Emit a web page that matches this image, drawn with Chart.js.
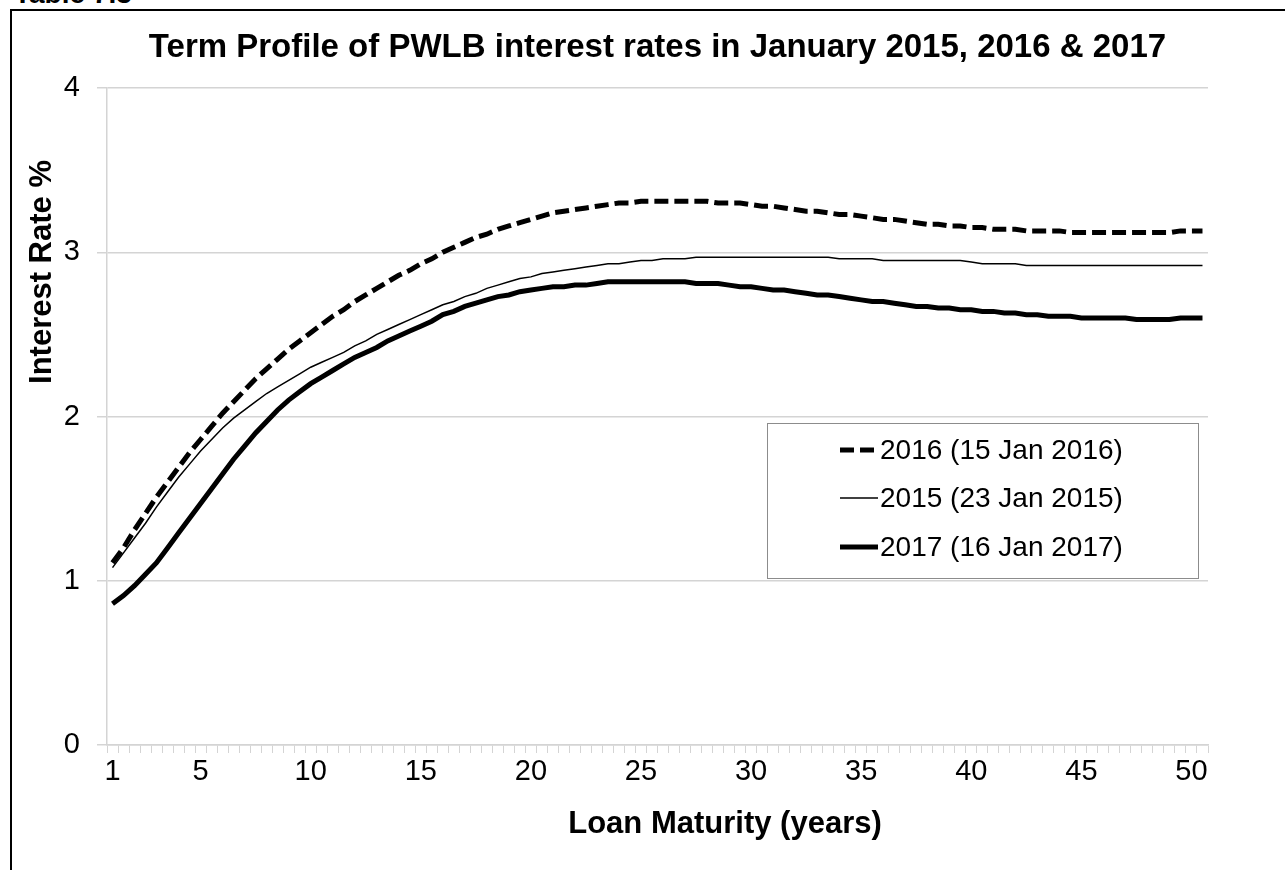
<!DOCTYPE html>
<html lang="en">
<head>
    <meta charset="UTF-8">
    <title>Term Profile of PWLB interest rates</title>
    <script src="https://cdn.jsdelivr.net/npm/chart.js"></script>
    <style>
        body {
            margin: 0;
            background: #fff;
            overflow: hidden;
            font-family: "Liberation Sans", Arial, sans-serif;
        }
        .caption {
            position: absolute;
            left: 14px;
            top: -20px;
            font: bold 28px/28px "Liberation Sans", Arial, sans-serif;
            color: #000;
        }
        .frame {
            position: absolute;
            left: 10px;
            top: 9px;
            width: 1300px;
            height: 900px;
            border-top: 2px solid #000;
            border-left: 2px solid #000;
        }
        .chart-box {
            position: absolute;
            left: 0;
            top: 0;
            width: 1285px;
            height: 870px;
        }
    </style>
</head>
<body>
    <div class="caption">Table 7.3</div>
    <div class="frame"></div>
    <div class="chart-box">
        <canvas id="rateChart"></canvas>
    </div>

    <script>
        // maturity in years, half-year steps
        const maturities = [
            1, 1.5, 2, 2.5, 3, 3.5, 4, 4.5, 5, 5.5,
            6, 6.5, 7, 7.5, 8, 8.5, 9, 9.5, 10, 10.5,
            11, 11.5, 12, 12.5, 13, 13.5, 14, 14.5, 15, 15.5,
            16, 16.5, 17, 17.5, 18, 18.5, 19, 19.5, 20, 20.5,
            21, 21.5, 22, 22.5, 23, 23.5, 24, 24.5, 25, 25.5,
            26, 26.5, 27, 27.5, 28, 28.5, 29, 29.5, 30, 30.5,
            31, 31.5, 32, 32.5, 33, 33.5, 34, 34.5, 35, 35.5,
            36, 36.5, 37, 37.5, 38, 38.5, 39, 39.5, 40, 40.5,
            41, 41.5, 42, 42.5, 43, 43.5, 44, 44.5, 45, 45.5,
            46, 46.5, 47, 47.5, 48, 48.5, 49, 49.5, 50, 50.5
        ];
        const labelledYears = [1, 5, 10, 15, 20, 25, 30, 35, 40, 45, 50];
        const yTicks = [0, 1, 2, 3, 4];

        // 2016 (15 Jan 2016)
        const rates2016 = [
            1.11, 1.20, 1.31, 1.41, 1.51, 1.60, 1.69, 1.78, 1.86, 1.94,
            2.02, 2.09, 2.16, 2.23, 2.29, 2.35, 2.41, 2.46, 2.51, 2.56,
            2.61, 2.65, 2.70, 2.74, 2.78, 2.82, 2.86, 2.89, 2.93, 2.96,
            3.00, 3.03, 3.06, 3.09, 3.11, 3.14, 3.16, 3.18, 3.20, 3.22,
            3.24, 3.25, 3.26, 3.27, 3.28, 3.29, 3.30, 3.30, 3.31, 3.31,
            3.31, 3.31, 3.31, 3.31, 3.31, 3.30, 3.30, 3.30, 3.29, 3.28,
            3.28, 3.27, 3.26, 3.25, 3.25, 3.24, 3.23, 3.23, 3.22, 3.21,
            3.20, 3.20, 3.19, 3.18, 3.17, 3.17, 3.16, 3.16, 3.15, 3.15,
            3.14, 3.14, 3.14, 3.13, 3.13, 3.13, 3.13, 3.12, 3.12, 3.12,
            3.12, 3.12, 3.12, 3.12, 3.12, 3.12, 3.12, 3.13, 3.13, 3.13
        ];

        // 2015 (23 Jan 2015)
        const rates2015 = [
            1.08, 1.17, 1.26, 1.35, 1.45, 1.54, 1.63, 1.71, 1.79, 1.86,
            1.93, 1.99, 2.04, 2.09, 2.14, 2.18, 2.22, 2.26, 2.30, 2.33,
            2.36, 2.39, 2.43, 2.46, 2.50, 2.53, 2.56, 2.59, 2.62, 2.65,
            2.68, 2.70, 2.73, 2.75, 2.78, 2.80, 2.82, 2.84, 2.85, 2.87,
            2.88, 2.89, 2.90, 2.91, 2.92, 2.93, 2.93, 2.94, 2.95, 2.95,
            2.96, 2.96, 2.96, 2.97, 2.97, 2.97, 2.97, 2.97, 2.97, 2.97,
            2.97, 2.97, 2.97, 2.97, 2.97, 2.97, 2.96, 2.96, 2.96, 2.96,
            2.95, 2.95, 2.95, 2.95, 2.95, 2.95, 2.95, 2.95, 2.94, 2.93,
            2.93, 2.93, 2.93, 2.92, 2.92, 2.92, 2.92, 2.92, 2.92, 2.92,
            2.92, 2.92, 2.92, 2.92, 2.92, 2.92, 2.92, 2.92, 2.92, 2.92
        ];

        // 2017 (16 Jan 2017)
        const rates2017 = [
            0.86, 0.91, 0.97, 1.04, 1.11, 1.20, 1.29, 1.38, 1.47, 1.56,
            1.65, 1.74, 1.82, 1.90, 1.97, 2.04, 2.10, 2.15, 2.20, 2.24,
            2.28, 2.32, 2.36, 2.39, 2.42, 2.46, 2.49, 2.52, 2.55, 2.58,
            2.62, 2.64, 2.67, 2.69, 2.71, 2.73, 2.74, 2.76, 2.77, 2.78,
            2.79, 2.79, 2.80, 2.80, 2.81, 2.82, 2.82, 2.82, 2.82, 2.82,
            2.82, 2.82, 2.82, 2.81, 2.81, 2.81, 2.80, 2.79, 2.79, 2.78,
            2.77, 2.77, 2.76, 2.75, 2.74, 2.74, 2.73, 2.72, 2.71, 2.70,
            2.70, 2.69, 2.68, 2.67, 2.67, 2.66, 2.66, 2.65, 2.65, 2.64,
            2.64, 2.63, 2.63, 2.62, 2.62, 2.61, 2.61, 2.61, 2.60, 2.60,
            2.60, 2.60, 2.60, 2.59, 2.59, 2.59, 2.59, 2.60, 2.60, 2.60
        ];

        const xTitle = 'Loan Maturity (years)';
        const yTitle = 'Interest Rate %';

        const FONT = '"Liberation Sans", Arial, sans-serif';
        const GRID = '#d4d4d4';

        // axis titles sit off-centre in the original, so draw them ourselves
        const axisTitles = {
            id: 'axisTitles',
            afterDraw(chart) {
                const ctx = chart.ctx;
                ctx.save();
                ctx.fillStyle = '#000';
                ctx.font = 'bold 31px ' + FONT;
                ctx.textAlign = 'center';
                ctx.textBaseline = 'middle';
                ctx.fillText(xTitle, 725, 824);
                ctx.translate(42, 272);
                ctx.rotate(-Math.PI / 2);
                ctx.fillText(yTitle, 0, 0);
                ctx.restore();
            }
        };

        // legend drawn in a framed box inside the plot, like the original
        const boxedLegend = {
            id: 'boxedLegend',
            afterDraw(chart) {
                const ctx = chart.ctx;
                const box = { x: 767, y: 423, w: 431, h: 155 };
                const rows = [450, 498, 547];
                ctx.save();
                ctx.fillStyle = '#fff';
                ctx.fillRect(box.x, box.y, box.w, box.h);
                ctx.strokeStyle = '#8c8c8c';
                ctx.lineWidth = 1;
                ctx.strokeRect(box.x + 0.5, box.y + 0.5, box.w, box.h);
                chart.data.datasets.forEach((ds, i) => {
                    const y = rows[i];
                    ctx.beginPath();
                    ctx.setLineDash(ds.borderDash || []);
                    ctx.lineWidth = ds.borderWidth;
                    ctx.strokeStyle = ds.borderColor;
                    ctx.lineCap = 'butt';
                    ctx.moveTo(840, y);
                    ctx.lineTo(878, y);
                    ctx.stroke();
                    ctx.setLineDash([]);
                    ctx.fillStyle = '#000';
                    ctx.font = '28px ' + FONT;
                    ctx.textBaseline = 'middle';
                    ctx.textAlign = 'left';
                    ctx.fillText(ds.label, 880, y + 1);
                });
                ctx.restore();
            }
        };

        const ctx = document.getElementById('rateChart').getContext('2d');
        new Chart(ctx, {
            type: 'line',
            data: {
                labels: maturities,
                datasets: [
                    {
                        label: '2016 (15 Jan 2016)',
                        data: rates2016,
                        borderColor: '#000',
                        borderWidth: 5,
                        borderDash: [14, 6]
                    },
                    {
                        label: '2015 (23 Jan 2015)',
                        data: rates2015,
                        borderColor: '#000',
                        borderWidth: 1.5
                    },
                    {
                        label: '2017 (16 Jan 2017)',
                        data: rates2017,
                        borderColor: '#000',
                        borderWidth: 5
                    }
                ]
            },
            options: {
                responsive: true,
                maintainAspectRatio: false,
                animation: false,
                elements: {
                    point: { radius: 0 },
                    line: { tension: 0, fill: false }
                },
                layout: {
                    padding: { left: 0, right: 77, top: 0, bottom: 0 }
                },
                plugins: {
                    legend: { display: false },
                    tooltip: { enabled: false },
                    title: {
                        display: true,
                        fullSize: false,
                        text: 'Term Profile of PWLB interest rates in January 2015, 2016 & 2017',
                        color: '#000',
                        font: { family: FONT, size: 33, weight: 'bold', lineHeight: 1.2 },
                        padding: { top: 28, bottom: 20.4 }
                    }
                },
                scales: {
                    x: {
                        type: 'category',
                        offset: true,
                        afterFit: (s) => { s.height = 125; },
                        grid: {
                            display: true,
                            drawOnChartArea: false,
                            drawTicks: true,
                            tickLength: 8,
                            offset: true,
                            color: GRID
                        },
                        border: { display: true, color: GRID, width: 1.5 },
                        ticks: {
                            autoSkip: false,
                            maxRotation: 0,
                            padding: 2,
                            color: '#000',
                            font: { family: FONT, size: 29 },
                            callback: function (value, index) {
                                const yr = maturities[index];
                                return labelledYears.includes(yr) ? String(yr) : '';
                            }
                        }
                    },
                    y: {
                        min: 0,
                        max: 4,
                        afterFit: (s) => { s.width = 107; },
                        afterBuildTicks: (s) => { s.ticks = yTicks.map(v => ({ value: v })); },
                        grid: {
                            color: GRID,
                            lineWidth: 1.5,
                            drawTicks: true,
                            tickLength: 10
                        },
                        border: { display: true, color: GRID, width: 1.5 },
                        ticks: {
                            padding: 17,
                            color: '#000',
                            font: { family: FONT, size: 29 }
                        }
                    }
                }
            },
            plugins: [axisTitles, boxedLegend]
        });
    </script>
</body>
</html>
